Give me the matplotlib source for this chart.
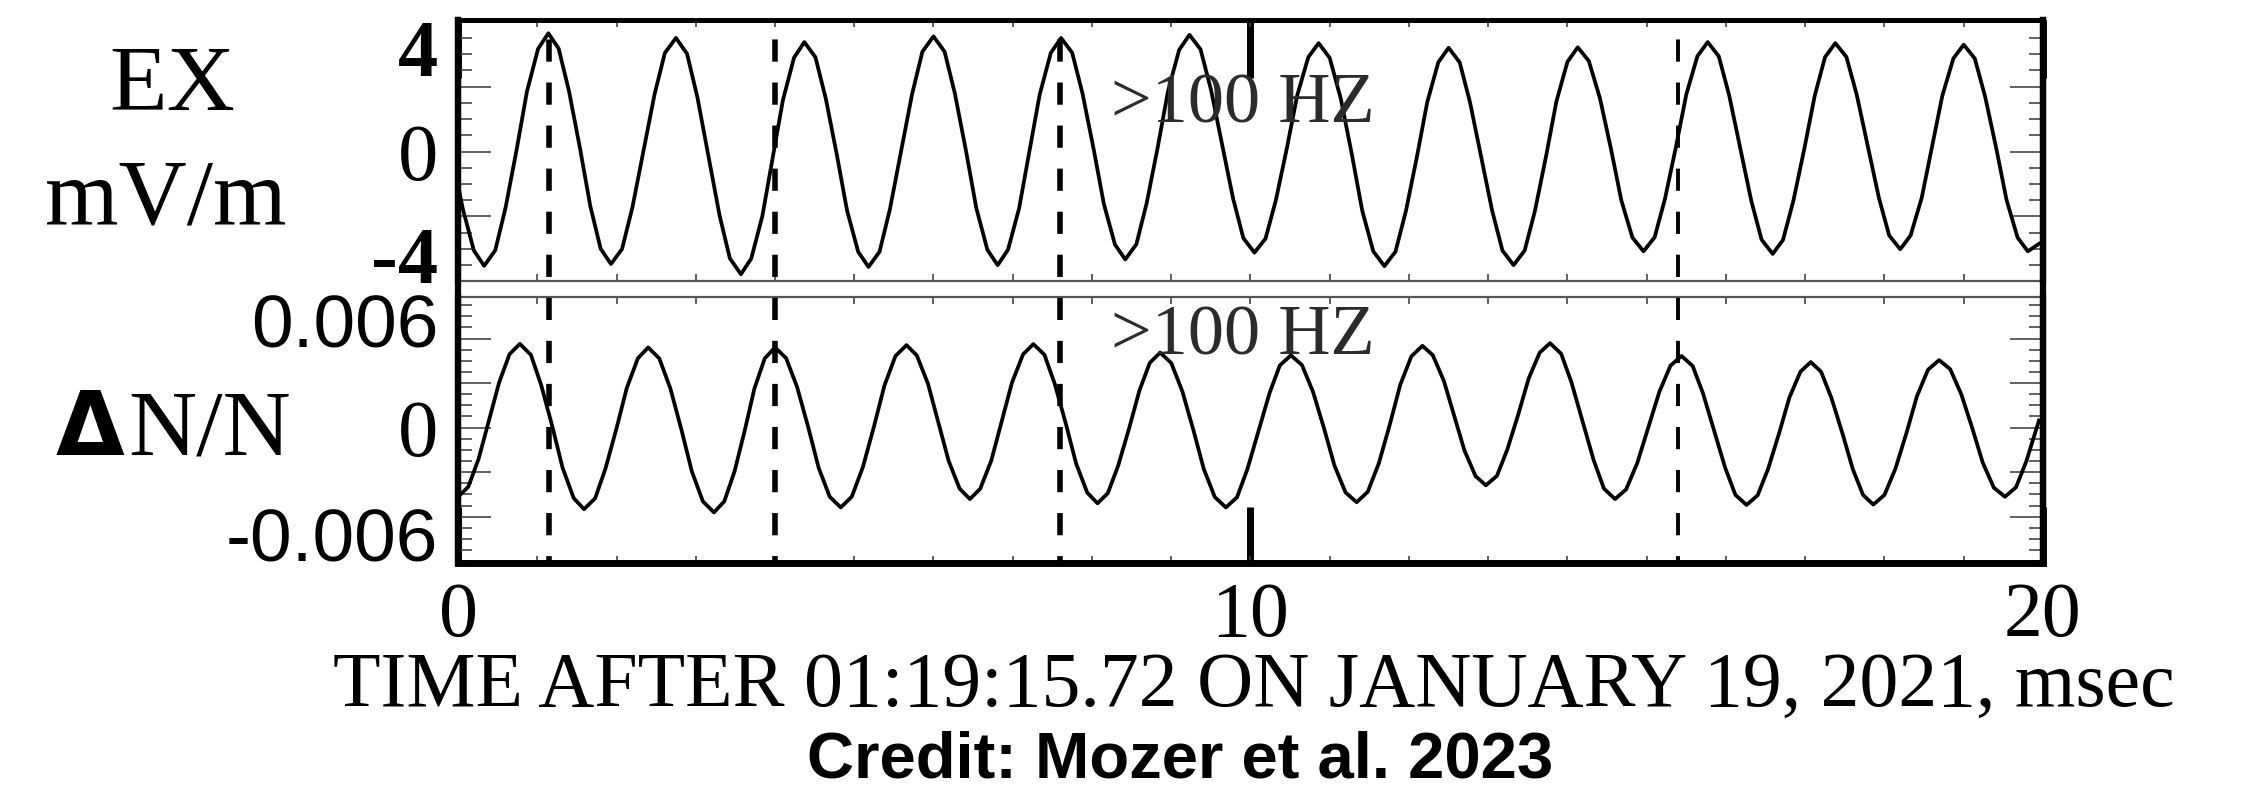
import matplotlib
matplotlib.use('Agg')
from matplotlib import pyplot as plt
from matplotlib.ticker import FixedLocator, MultipleLocator

plt.rcParams['lines.scale_dashes'] = False
SERIF = 'Liberation Serif'
SANS = 'Liberation Sans'

# EX (mV/m), >100 Hz: time in msec
ex_t = [0.00, 0.06, 0.20, 0.33,
        0.47, 0.60, 0.74, 0.87, 1.01, 1.14,
        1.27, 1.40, 1.54, 1.67, 1.80, 1.93,
        2.07, 2.20, 2.34, 2.48, 2.61, 2.75,
        2.89, 3.02, 3.16, 3.30, 3.43, 3.57,
        3.70, 3.84, 3.97, 4.10, 4.24, 4.37,
        4.51, 4.64, 4.78, 4.91, 5.05, 5.18,
        5.32, 5.45, 5.59, 5.73, 5.86, 6.00,
        6.14, 6.27, 6.41, 6.54, 6.68, 6.81,
        6.94, 7.08, 7.21, 7.34, 7.48, 7.61,
        7.75, 7.88, 8.02, 8.15, 8.29, 8.42,
        8.56, 8.69, 8.83, 8.96, 9.10, 9.23,
        9.37, 9.50, 9.64, 9.78, 9.91, 10.05,
        10.19, 10.32, 10.46, 10.59, 10.73, 10.86,
        11.00, 11.14, 11.28, 11.41, 11.55, 11.69,
        11.83, 11.96, 12.10, 12.23, 12.37, 12.50,
        12.64, 12.77, 12.91, 13.05, 13.18, 13.32,
        13.46, 13.59, 13.73, 13.86, 14.00, 14.13,
        14.27, 14.41, 14.55, 14.68, 14.82, 14.96,
        15.10, 15.23, 15.37, 15.50, 15.64, 15.77,
        15.91, 16.04, 16.18, 16.32, 16.45, 16.59,
        16.72, 16.85, 16.99, 17.12, 17.25, 17.38,
        17.52, 17.65, 17.79, 17.93, 18.06, 18.20,
        18.33, 18.47, 18.60, 18.73, 18.87, 19.00,
        19.14, 19.27, 19.41, 19.54, 19.68, 19.81,
        19.95]
ex_v = [-1.30, -2.20, -3.81, -4.40,
        -3.80, -2.16, 0.08, 2.31, 3.95, 4.55,
        3.96, 2.33, 0.11, -2.11, -3.74, -4.33,
        -3.75, -2.16, 0.02, 2.20, 3.79, 4.37,
        3.76, 2.10, -0.18, -2.45, -4.11, -4.72,
        -4.12, -2.49, -0.26, 1.98, 3.61, 4.21,
        3.63, 2.05, -0.12, -2.28, -3.86, -4.44,
        -3.85, -2.22, 0.00, 2.21, 3.84, 4.43,
        3.84, 2.23, 0.03, -2.17, -3.78, -4.37,
        -3.78, -2.19, 0.00, 2.19, 3.79, 4.37,
        3.80, 2.24, 0.11, -2.02, -3.58, -4.15,
        -3.57, -1.99, 0.17, 2.33, 3.91, 4.49,
        3.93, 2.40, 0.30, -1.80, -3.33, -3.89,
        -3.35, -1.88, 0.14, 2.16, 3.63, 4.17,
        3.60, 2.03, -0.12, -2.27, -3.84, -4.41,
        -3.85, -2.31, -0.21, 1.89, 3.43, 3.99,
        3.43, 1.90, -0.19, -2.28, -3.81, -4.37,
        -3.81, -2.28, -0.18, 1.92, 3.45, 4.01,
        3.48, 2.05, 0.09, -1.88, -3.31, -3.84,
        -3.30, -1.83, 0.19, 2.20, 3.67, 4.21,
        3.66, 2.17, 0.14, -1.90, -3.39, -3.94,
        -3.40, -1.91, 0.12, 2.14, 3.63, 4.17,
        3.64, 2.19, 0.21, -1.78, -3.23, -3.76,
        -3.23, -1.79, 0.18, 2.14, 3.58, 4.11,
        3.58, 2.12, 0.14, -1.85, -3.31, -3.84,
        -3.55]

# delta N / N, >100 Hz
dn_t = [0.00,
        0.13, 0.26, 0.39, 0.52, 0.65, 0.78,
        0.92, 1.05, 1.19, 1.32, 1.46, 1.59,
        1.73, 1.86, 2.00, 2.13, 2.27, 2.40,
        2.54, 2.68, 2.82, 2.95, 3.09, 3.23,
        3.36, 3.49, 3.62, 3.74, 3.87, 4.00,
        4.14, 4.28, 4.42, 4.55, 4.69, 4.83,
        4.97, 5.11, 5.25, 5.38, 5.52, 5.66,
        5.79, 5.93, 6.06, 6.19, 6.33, 6.46,
        6.59, 6.73, 6.86, 6.99, 7.13, 7.26,
        7.40, 7.53, 7.67, 7.80, 7.94, 8.07,
        8.20, 8.33, 8.47, 8.60, 8.73, 8.86,
        9.00, 9.14, 9.28, 9.41, 9.55, 9.69,
        9.83, 9.96, 10.10, 10.24, 10.37, 10.51,
        10.65, 10.79, 10.93, 11.06, 11.20, 11.34,
        11.48, 11.62, 11.76, 11.89, 12.03, 12.17,
        12.30, 12.44, 12.57, 12.70, 12.84, 12.97,
        13.11, 13.24, 13.38, 13.51, 13.65, 13.78,
        13.92, 14.05, 14.19, 14.33, 14.46, 14.60,
        14.74, 14.88, 15.02, 15.16, 15.30, 15.44,
        15.58, 15.71, 15.85, 15.99, 16.12, 16.26,
        16.40, 16.53, 16.67, 16.80, 16.94, 17.07,
        17.20, 17.33, 17.47, 17.60, 17.73, 17.86,
        18.00, 18.14, 18.28, 18.41, 18.55, 18.69,
        18.83, 18.97, 19.11, 19.24, 19.38, 19.52,
        19.66, 19.79, 19.95]
dn_v = [-0.00390,
        -0.00332, -0.00175, 0.00040, 0.00255, 0.00412, 0.00470,
        0.00408, 0.00238, 0.00006, -0.00226, -0.00396, -0.00458,
        -0.00397, -0.00231, -0.00004, 0.00223, 0.00389, 0.00450,
        0.00388, 0.00219, -0.00013, -0.00245, -0.00414, -0.00476,
        -0.00414, -0.00245, -0.00013, 0.00219, 0.00388, 0.00450,
        0.00390, 0.00226, 0.00001, -0.00224, -0.00388, -0.00448,
        -0.00387, -0.00220, 0.00008, 0.00235, 0.00402, 0.00463,
        0.00405, 0.00247, 0.00031, -0.00185, -0.00343, -0.00401,
        -0.00343, -0.00184, 0.00034, 0.00252, 0.00411, 0.00469,
        0.00409, 0.00246, 0.00022, -0.00202, -0.00365, -0.00425,
        -0.00368, -0.00214, -0.00002, 0.00210, 0.00364, 0.00421,
        0.00363, 0.00204, -0.00014, -0.00231, -0.00390, -0.00448,
        -0.00391, -0.00235, -0.00021, 0.00193, 0.00349, 0.00406,
        0.00351, 0.00200, -0.00007, -0.00213, -0.00364, -0.00419,
        -0.00360, -0.00200, 0.00020, 0.00240, 0.00400, 0.00459,
        0.00407, 0.00263, 0.00068, -0.00128, -0.00272, -0.00324,
        -0.00271, -0.00124, 0.00075, 0.00275, 0.00421, 0.00474,
        0.00415, 0.00255, 0.00037, -0.00182, -0.00342, -0.00401,
        -0.00347, -0.00200, 0.00001, 0.00201, 0.00348, 0.00402,
        0.00346, 0.00193, -0.00016, -0.00225, -0.00378, -0.00434,
        -0.00380, -0.00234, -0.00033, 0.00168, 0.00314, 0.00368,
        0.00314, 0.00168, -0.00032, -0.00232, -0.00378, -0.00432,
        -0.00378, -0.00229, -0.00027, 0.00176, 0.00325, 0.00379,
        0.00328, 0.00187, -0.00005, -0.00196, -0.00337, -0.00388,
        -0.00335, -0.00190, 0.00040]

dash_times = [1.15, 4.0, 7.6, 15.4]

x_ticks = [0, 10, 20]
x_tick_labels = ['0', '10', '20']
ex_ticks = [4, 0, -4]
ex_tick_labels = ['4', '0', '-4']
dn_ticks = [0.006, 0, -0.006]
dn_tick_labels = ['0.006', '0', '-0.006']

fig = plt.figure(figsize=(22.43, 7.87), dpi=100)
fig.patch.set_facecolor('white')

L, W = 0.2042, 0.7066
ax1 = fig.add_axes([L, 0.6430, W, 0.3316])
ax2 = fig.add_axes([L, 0.2846, W, 0.3380])
ax0 = fig.add_axes([L, 0.2846, W, 0.6900])  # overlay for the dashed lines

ax1.plot(ex_t, ex_v, color='k', lw=2.7, solid_joinstyle='round')
ax2.plot(dn_t, dn_v, color='k', lw=2.7, solid_joinstyle='round')
ax1.set_ylim(-4.98, 5.06)
ax2.set_ylim(-0.0076, 0.00733)

for ax in (ax1, ax2):
    ax.set_xlim(0, 20)
    ax.xaxis.remove_overlapping_locs = False
    ax.xaxis.set_major_locator(FixedLocator(x_ticks))
    ax.xaxis.set_minor_locator(MultipleLocator(1))
    ax.tick_params(axis='x', which='minor', direction='in', top=True, bottom=True,
                   length=5, width=1.2, color='#444444')
    ax.tick_params(axis='y', which='major', direction='in', left=True, right=True,
                   length=24, width=1.3, color='#555555', labelleft=False)
    ax.tick_params(axis='y', which='minor', direction='in', left=True, right=True,
                   length=10, width=1.3, color='#555555')
    for s in ('left', 'right'):
        ax.spines[s].set_linewidth(4.5)

ax1.yaxis.set_major_locator(FixedLocator([-2.5, 0, 2.5]))
ax1.yaxis.set_minor_locator(MultipleLocator(0.625))
ax2.yaxis.set_major_locator(FixedLocator([-0.005, -0.0025, 0, 0.0025, 0.005]))
ax2.yaxis.set_minor_locator(MultipleLocator(0.000625))

ax1.tick_params(axis='x', which='major', direction='in', top=True, bottom=False,
                length=42, width=5, color='k', labelbottom=False)
ax2.tick_params(axis='x', which='major', direction='in', top=False, bottom=True,
                length=40, width=5, color='k', pad=13)
ax2.set_xticks(x_ticks, labels=x_tick_labels, fontfamily=SERIF, fontsize=56)

ax1.spines['top'].set_linewidth(3.6)
ax1.spines['bottom'].set_linewidth(1.6)
ax1.spines['bottom'].set_color('#555555')
ax2.spines['top'].set_linewidth(1.6)
ax2.spines['top'].set_color('#555555')
ax2.spines['bottom'].set_linewidth(5)

# y tick labels (mixed fonts, as in the original)
ex_styles = [dict(family=SERIF, weight='bold'), dict(family=SERIF), dict(family=SERIF, weight='bold')]
for v, lab, st in zip(ex_ticks, ex_tick_labels, ex_styles):
    ax1.text(-0.0126, v, lab, transform=ax1.get_yaxis_transform(), ha='right',
             va='center_baseline', fontsize=58, **st)
dn_styles = [dict(family=SANS, size=54), dict(family=SERIF, size=58), dict(family=SANS, size=54)]
for v, lab, st in zip(dn_ticks, dn_tick_labels, dn_styles):
    ax2.text(-0.0126, v, lab, transform=ax2.get_yaxis_transform(), ha='right',
             va='center_baseline', **st)

ax1.text(8.24, 1.13, '>100 HZ', ha='left', va='baseline', fontsize=52,
         family=SERIF, color='#2b2b2b')
ax2.text(8.24, 0.00409, '>100 HZ', ha='left', va='baseline', fontsize=52,
         family=SERIF, color='#2b2b2b')

# dashed markers across both panels
ax0.set_xlim(0, 20)
ax0.set_ylim(0, 1)
ax0.set_xticks([])
ax0.set_yticks([])
ax0.patch.set_visible(False)
ax0.spines['top'].set_visible(False)
ax0.spines['bottom'].set_visible(False)
for s in ('left', 'right'):
    ax0.spines[s].set_linewidth(4.5)
for i, t in enumerate(dash_times):
    ax0.plot([t, t], [1, 0], color='k', lw=4 if i < 3 else 2.8,
             linestyle=(17, (16, 15)), dash_capstyle='butt')

# axis titles
fig.text(0.0770, 0.8602, 'EX', ha='center', va='baseline', fontsize=68, family=SERIF)
fig.text(0.0740, 0.7154, 'mV/m', ha='center', va='baseline', fontsize=68, family=SERIF)
fig.text(0.0553, 0.4219, '\u0394', ha='right', va='baseline', fontsize=64,
         family='DejaVu Sans', weight='bold')
fig.text(0.0571, 0.4219, 'N/N', ha='left', va='baseline', fontsize=68, family=SERIF)

fig.text(0.559, 0.1029, 'TIME AFTER 01:19:15.72 ON JANUARY 19, 2021, msec',
         ha='center', va='baseline', fontsize=56, family=SERIF)
fig.text(0.526, 0.0127, 'Credit: Mozer et al. 2023', ha='center', va='baseline',
         fontsize=47, family=SANS, weight='bold')

fig.savefig('out.png', dpi=100, facecolor='white')
